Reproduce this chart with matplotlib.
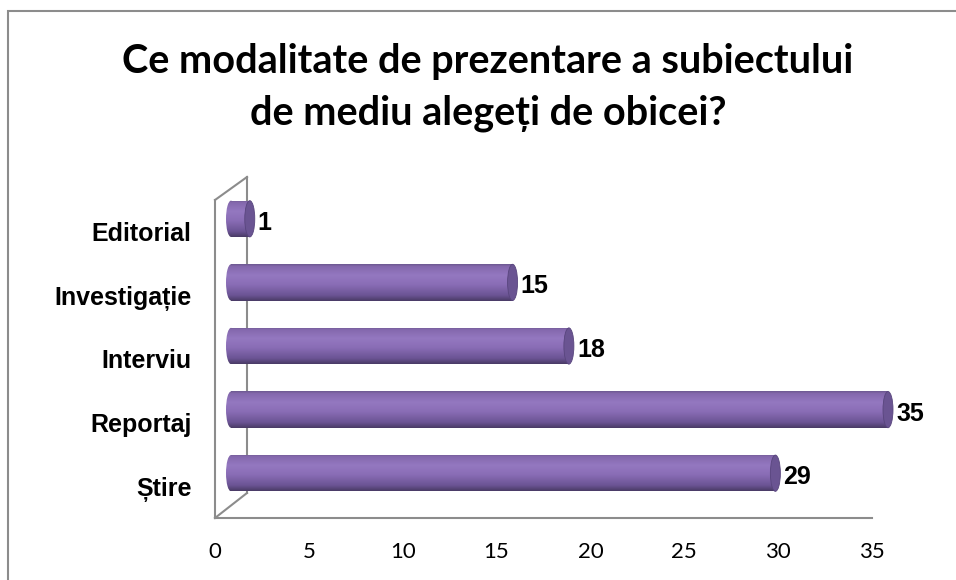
import numpy as np
import matplotlib
matplotlib.use("Agg")
import matplotlib.pyplot as plt
from matplotlib.patches import Ellipse, Rectangle
from matplotlib.transforms import ScaledTranslation
from matplotlib.colors import to_rgb

# date din grafic (de jos in sus)
categorii = ["Știre", "Reportaj", "Interviu", "Investigație", "Editorial"]
valori = [29, 35, 18, 15, 1]
ticks_x = [0, 5, 10, 15, 20, 25, 30, 35]
titlu1 = "Ce modalitate de prezentare a subiectului"
titlu2 = "de mediu alegeți de obicei?"

DPI = 100
ppu = 657 / 35          # pixeli pe unitate
xmax = 36.5             # spatiu pentru capatul barei de 35
lat = xmax * ppu
fig = plt.figure(figsize=(9.56, 5.8), dpi=DPI)
ax = fig.add_axes([215 / 956, 62 / 580, lat / 956, 318 / 580])
ax.set_xlim(0, xmax)
ax.set_ylim(-0.5, 4.5)

# bordura graficului
fig.patches.append(Rectangle((8 / 956, -0.2), 2, 1 - 11 / 580 + 0.2, transform=fig.transFigure,
                             fill=False, ec="#8c8c8c", lw=1.5))

# peretii 3D
gri = "#8c8c8c"
ta = ax.transAxes
bx = 32 / lat
ax.plot([0, 0], [0, 1], color=gri, lw=1.5, transform=ta, clip_on=False, zorder=1)
ax.plot([0, 35 / xmax], [0, 0], color=gri, lw=1.5, transform=ta, clip_on=False, zorder=1)
ax.plot([bx, bx], [25 / 318, 1 + 23 / 318], color=gri, lw=1.5, transform=ta, clip_on=False, zorder=1)
ax.plot([0, bx], [1, 1 + 23 / 318], color=gri, lw=1.5, transform=ta, clip_on=False, zorder=1)
ax.plot([0, bx], [0, 25 / 318], color=gri, lw=1.5, transform=ta, clip_on=False, zorder=1)

# bare cilindrice
mijloc = ScaledTranslation(16 / DPI, 13 / DPI, fig.dpi_scale_trans)
tb = ax.transData + mijloc
h = 0.57
cap = 10 / ppu

stops = [(0.0, "#6e5a92"), (0.06, "#8468ad"), (0.3, "#9478c0"), (0.55, "#8a6db6"),
         (0.85, "#6b5494"), (1.0, "#4a3b66")]
yy = np.linspace(0, 1, 64)
grad = np.zeros((64, 1, 3))
for c in range(3):
    grad[:, 0, c] = np.interp(yy, [s[0] for s in stops], [to_rgb(s[1])[c] for s in stops])

for i, v in enumerate(valori):
    bara = ax.barh(i, v, height=h, left=0, color="none", transform=tb, clip_on=False)[0]
    im = ax.imshow(grad, extent=[0, v, i - h / 2, i + h / 2], aspect="auto",
                   transform=tb, zorder=2, interpolation="bilinear")
    im.set_clip_path(bara)
    el = Ellipse((0, i), cap, h, transform=tb, color="none", clip_on=False)
    ax.add_patch(el)
    im2 = ax.imshow(grad, extent=[-cap / 2, cap / 2, i - h / 2, i + h / 2], aspect="auto",
                    transform=tb, zorder=2, interpolation="bilinear")
    im2.set_clip_path(el)
    ax.add_patch(Ellipse((v, i), cap, h, transform=tb, fc="#6a5492", ec="#58457d",
                         lw=0.6, zorder=3, clip_on=False))
    ax.annotate(str(v), (v, i), xytext=(16 + 8, 9), textcoords="offset pixels",
                ha="left", va="center", fontsize=18, fontweight="bold",
                family="Liberation Sans", color="black", annotation_clip=False)

ax.set_xlim(0, xmax)
ax.set_ylim(-0.5, 4.5)
ax.set_yticks(range(len(categorii)))
ax.set_yticklabels(categorii, fontsize=18, fontweight="bold", family="Liberation Sans")
ax.set_xticks(ticks_x)
ax.set_xticklabels([str(t) for t in ticks_x], fontsize=16, family="Lato")
ax.tick_params(axis="y", length=0, pad=17)
ax.tick_params(axis="x", length=0, pad=17)
for s in ax.spines.values():
    s.set_visible(False)
ax.patch.set_visible(False)

fig.text(488 / 956, 1 - 73 / 580, titlu1, ha="center", va="baseline", fontsize=28.5,
         fontweight="bold", family="Lato")
fig.text(488 / 956, 1 - 125 / 580, titlu2, ha="center", va="baseline", fontsize=28.5,
         fontweight="bold", family="Lato")

fig.savefig("out.png", dpi=DPI)
